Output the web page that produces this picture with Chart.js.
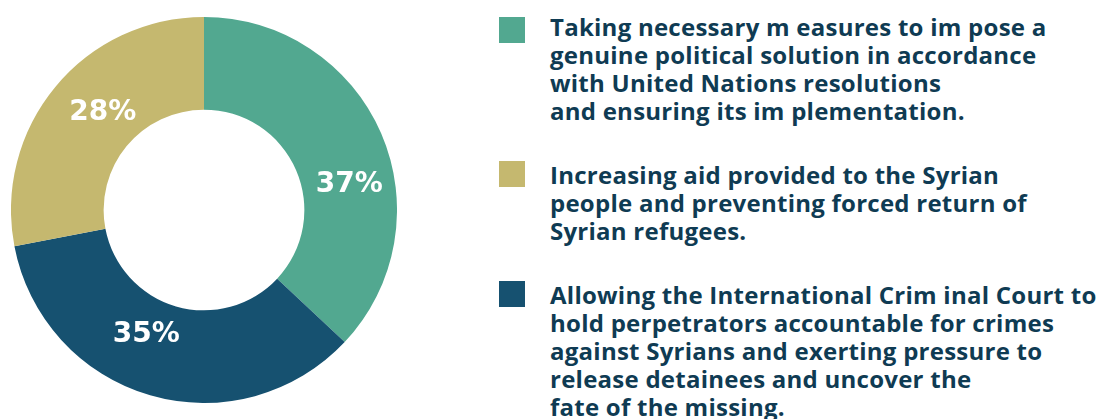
<!DOCTYPE html>
<html>
<head>
<meta charset="utf-8">
<script src="https://cdn.jsdelivr.net/npm/chart.js@4/dist/chart.umd.min.js"></script>
<style>
  html, body { margin: 0; padding: 0; background: #fff; }
  body { width: 1098px; height: 419px; position: relative; overflow: hidden; }
  #chartBox { position: absolute; left: 11px; top: 17px; width: 386px; height: 386px; }
  #legend { position: absolute; left: 499px; top: 0; width: 599px; height: 419px; }
  .item { position: absolute; left: 0; }
  .swatch { position: absolute; left: 0; width: 26px; height: 26px; }
  .text {
    position: absolute; left: 51px; white-space: nowrap;
    font-family: "Open Sans", sans-serif; font-weight: 700;
    font-size: 24px; line-height: 28px; letter-spacing: 0.25px; color: #0f3b53;
  }
</style>
</head>
<body>
<div id="chartBox"><canvas id="donut"></canvas></div>
<div id="legend"></div>
<script>
// answers, in the order they run clockwise from the top
const answers = [
  ["Taking necessary m easures to im pose a", "genuine political solution in accordance", "with United Nations resolutions", "and ensuring its im plementation."],
  ["Allowing the International Crim inal Court to", "hold perpetrators accountable for crimes", "against Syrians and exerting pressure to", "release detainees and uncover the", "fate of the missing."],
  ["Increasing aid provided to the Syrian", "people and preventing forced return of", "Syrian refugees."]
];
const shares = [37, 35, 28];
const colors = ["#52a890", "#165170", "#c5b86f"];

// legend runs green, khaki, blue
const legendOrder = [0, 2, 1];
const legendTops = [13, 161, 281];
const swatchOffsets = [4, 0, 0];

const legend = document.getElementById("legend");
legendOrder.forEach((idx, n) => {
    const item = document.createElement("div");
    item.className = "item";
    item.style.top = legendTops[n] + "px";
    item.innerHTML = `
        <div class="swatch" style="background:${colors[idx]}; top:${swatchOffsets[n]}px"></div>
        <div class="text">${answers[idx].join("<br>")}</div>
    `;
    legend.appendChild(item);
});

// percentage labels sitting inside each ring segment
const sliceLabels = {
    id: "sliceLabels",
    afterDatasetsDraw(chart, args, opts) {
        const ctx = chart.ctx;
        const meta = chart.getDatasetMeta(0);
        ctx.save();
        ctx.fillStyle = "#ffffff";
        ctx.font = "700 28px 'DejaVu Sans', sans-serif";
        ctx.textAlign = "center";
        ctx.textBaseline = "middle";
        meta.data.forEach((arc, i) => {
            const p = arc.getProps(["x", "y", "startAngle", "endAngle", "innerRadius", "outerRadius"], true);
            const a = p.startAngle + (p.endAngle - p.startAngle) * opts.along[i];
            const r = p.innerRadius + (p.outerRadius - p.innerRadius) * opts.radial[i];
            ctx.fillText(shares[i] + "%", p.x + Math.cos(a) * r, p.y + Math.sin(a) * r + 1);
        });
        ctx.restore();
    }
};

new Chart(document.getElementById("donut"), {
    type: "doughnut",
    data: {
        labels: answers.map(a => a.join(" ")),
        datasets: [{
            data: shares,
            backgroundColor: colors,
            borderWidth: 0,
            hoverOffset: 0
        }]
    },
    options: {
        responsive: true,
        maintainAspectRatio: false,
        animation: false,
        cutout: "52%",
        layout: { padding: 0 },
        plugins: {
            legend: { display: false },
            tooltip: { enabled: false },
            sliceLabels: {
                along: [0.6, 0.57, 0.545],
                radial: [0.51, 0.39, 0.44]
            }
        }
    },
    plugins: [sliceLabels]
});
</script>
</body>
</html>
